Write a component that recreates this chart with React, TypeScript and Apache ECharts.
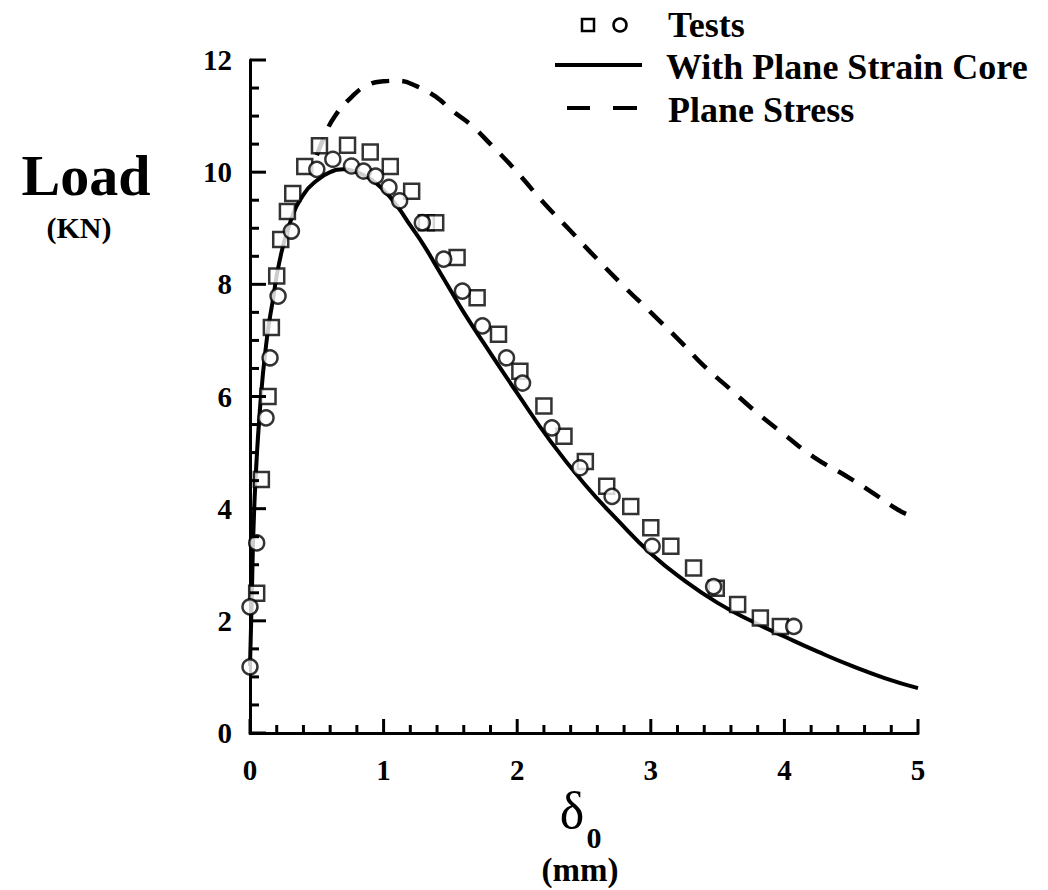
import React, { useEffect, useRef } from "react";
import * as echarts from "echarts";

// x: delta_0 (mm), y: Load (KN)
const squareTests: [number, number][] = [
  [0.05, 2.49], [0.085, 4.52], [0.135, 6.0], [0.16, 7.23], [0.2, 8.15],
  [0.23, 8.8], [0.28, 9.3], [0.32, 9.62], [0.41, 10.1], [0.52, 10.47],
  [0.73, 10.48], [0.9, 10.36], [1.05, 10.1], [1.21, 9.66], [1.32, 9.1],
  [1.39, 9.1], [1.55, 8.48], [1.7, 7.76], [1.86, 7.11], [2.02, 6.45],
  [2.2, 5.83], [2.35, 5.29], [2.51, 4.84], [2.67, 4.4], [2.85, 4.04],
  [3.0, 3.66], [3.15, 3.33], [3.32, 2.94], [3.49, 2.58], [3.65, 2.29],
  [3.82, 2.05], [3.97, 1.9],
];

const circleTests: [number, number][] = [
  [0.0, 1.18], [0.0, 2.25], [0.05, 3.39], [0.12, 5.62], [0.15, 6.69],
  [0.21, 7.79], [0.31, 8.95], [0.5, 10.05], [0.62, 10.23], [0.76, 10.11],
  [0.85, 10.02], [0.94, 9.93], [1.04, 9.73], [1.12, 9.49], [1.29, 9.1],
  [1.45, 8.45], [1.59, 7.88], [1.74, 7.26], [1.92, 6.69], [2.04, 6.24],
  [2.26, 5.44], [2.47, 4.73], [2.71, 4.22], [3.01, 3.33], [3.47, 2.61],
  [4.07, 1.9],
];

const planeStrainCore: [number, number][] = [
  [0.0, 1.2], [0.01, 2.1], [0.035, 4.2], [0.08, 5.95], [0.13, 7.1],
  [0.17, 7.7], [0.22, 8.4], [0.3, 9.1], [0.4, 9.6], [0.5, 9.85],
  [0.6, 10.0], [0.7, 10.05], [0.8, 10.0], [0.9, 9.88], [1.0, 9.68],
  [1.1, 9.4], [1.2, 9.05], [1.3, 8.7], [1.4, 8.3], [1.5, 7.9],
  [1.6, 7.5], [1.75, 6.95], [2.0, 6.06], [2.25, 5.2], [2.5, 4.45],
  [2.75, 3.8], [3.0, 3.2], [3.25, 2.72], [3.5, 2.32], [3.75, 2.0],
  [4.0, 1.72], [4.25, 1.45], [4.5, 1.2], [4.75, 0.98], [5.0, 0.8],
];

const planeStress: [number, number][] = [
  [0.5, 10.3], [0.56, 10.65], [0.63, 10.98], [0.76, 11.34], [0.88, 11.55],
  [1.0, 11.62], [1.1, 11.63], [1.25, 11.53], [1.4, 11.33], [1.5, 11.12],
  [1.65, 10.85], [1.8, 10.5], [2.0, 10.0], [2.2, 9.45], [2.4, 8.95],
  [2.55, 8.57], [2.8, 7.96], [3.0, 7.5], [3.23, 6.96], [3.4, 6.54],
  [3.6, 6.12], [3.78, 5.74], [4.0, 5.32], [4.22, 4.92], [4.45, 4.6],
  [4.65, 4.3], [4.85, 3.98], [4.97, 3.85],
];

// Axis tick positions
const xMajorTicks = [0, 1, 2, 3, 4, 5];
const xMinorTicks = [
  0.2, 0.4, 0.6, 0.8, 1.2, 1.4, 1.6, 1.8, 2.2, 2.4,
  2.6, 2.8, 3.2, 3.4, 3.6, 3.8, 4.2, 4.4, 4.6, 4.8,
];
const yMajorTicks = [0, 2, 4, 6, 8, 10, 12];
const yMinorTicks = [
  0.5, 1, 1.5, 2.5, 3, 3.5, 4.5, 5, 5.5, 6.5, 7, 7.5,
  8.5, 9, 9.5, 10.5, 11, 11.5,
];

const legendLabels = ["Tests", "With Plane Strain Core", "Plane Stress"];

const SERIF = "Liberation Serif, Times New Roman, serif";

// Tick marks drawn as thin rectangular scatter symbols placed by the axes' scales
function tickMarks(values: number[], dir: "x" | "y", len: number, width: number) {
  return {
    type: "scatter",
    silent: true,
    clip: false,
    z: 8,
    symbol: "rect",
    symbolSize: dir === "x" ? [width, len] : [len, width],
    symbolOffset: dir === "x" ? [0, -len / 2] : [len / 2, 0],
    itemStyle: { color: "#000", opacity: 1 },
    emphasis: { disabled: true },
    data: values.map((v) => (dir === "x" ? [v, 0] : [0, v])),
  };
}

export default function App() {
  const ref = useRef<HTMLDivElement>(null);

  useEffect(() => {
    if (!ref.current) return;
    const chart = echarts.init(ref.current, null, { renderer: "svg" });
    const labelStyle = {
      show: true,
      color: "#000",
      fontFamily: SERIF,
      fontWeight: "bold",
      fontSize: 29,
    };
    chart.setOption({
      animation: false,
      backgroundColor: "#fff",
      grid: { left: 250, right: 130, top: 60, bottom: 157, containLabel: false },
      xAxis: {
        type: "value",
        min: 0,
        max: 5,
        interval: 1,
        axisLine: { show: true, onZero: false, lineStyle: { color: "#000", width: 3 } },
        axisTick: { show: false },
        splitLine: { show: false },
        axisLabel: { ...labelStyle, margin: 22 },
      },
      yAxis: {
        type: "value",
        min: 0,
        max: 12,
        interval: 2,
        axisLine: { show: true, onZero: false, lineStyle: { color: "#000", width: 3 } },
        axisTick: { show: false },
        splitLine: { show: false },
        axisLabel: { ...labelStyle, margin: 18 },
      },
      series: [
        tickMarks(xMajorTicks, "x", 14, 3),
        tickMarks(xMinorTicks, "x", 8, 3),
        tickMarks(yMajorTicks, "y", 16, 3),
        tickMarks(yMinorTicks, "y", 9, 3),
        {
          type: "line",
          name: legendLabels[1],
          data: planeStrainCore,
          smooth: true,
          showSymbol: false,
          lineStyle: { color: "#000", width: 4 },
          z: 3,
        },
        {
          type: "line",
          name: legendLabels[2],
          data: planeStress,
          smooth: true,
          showSymbol: false,
          lineStyle: { color: "#000", width: 4.5, type: [18, 13] },
          z: 3,
        },
        {
          type: "scatter",
          name: "Tests (square)",
          data: squareTests,
          symbol: "rect",
          symbolSize: 15,
          itemStyle: { color: "#fff", borderColor: "#000", borderWidth: 2.5 },
          z: 4,
        },
        {
          type: "scatter",
          name: "Tests (circle)",
          data: circleTests,
          symbol: "circle",
          symbolSize: 15,
          itemStyle: { color: "#fff", borderColor: "#000", borderWidth: 2.5 },
          z: 5,
        },
      ],
      graphic: [
        // Legend
        { type: "rect", shape: { x: 582, y: 19, width: 12, height: 12 }, style: { fill: "#fff", stroke: "#000", lineWidth: 2.5 } },
        { type: "circle", shape: { cx: 620, cy: 25, r: 6.5 }, style: { fill: "#fff", stroke: "#000", lineWidth: 2.5 } },
        { type: "text", x: 668, y: 25, style: { text: legendLabels[0], font: `bold 36px ${SERIF}`, fill: "#000", textVerticalAlign: "middle" } },
        { type: "line", shape: { x1: 555, y1: 65, x2: 642, y2: 65 }, style: { stroke: "#000", lineWidth: 4 } },
        { type: "text", x: 666, y: 67, style: { text: legendLabels[1], font: `bold 36px ${SERIF}`, fill: "#000", textVerticalAlign: "middle" } },
        { type: "line", shape: { x1: 567, y1: 108, x2: 590, y2: 108 }, style: { stroke: "#000", lineWidth: 4 } },
        { type: "line", shape: { x1: 613, y1: 108, x2: 637, y2: 108 }, style: { stroke: "#000", lineWidth: 4 } },
        { type: "text", x: 668, y: 110, style: { text: legendLabels[2], font: `bold 36px ${SERIF}`, fill: "#000", textVerticalAlign: "middle" } },
        // Y axis title
        { type: "text", x: 86, y: 175, style: { text: "Load", font: `bold 58px ${SERIF}`, fill: "#000", textAlign: "center", textVerticalAlign: "middle" } },
        { type: "text", x: 79, y: 227, style: { text: "(KN)", font: `bold 30px ${SERIF}`, fill: "#000", textAlign: "center", textVerticalAlign: "middle" } },
        // X axis title
        { type: "text", x: 572, y: 810, style: { text: "δ", font: `52px ${SERIF}`, fill: "#000", textAlign: "center", textVerticalAlign: "middle" } },
        { type: "text", x: 594, y: 837, style: { text: "0", font: `bold 30px ${SERIF}`, fill: "#000", textAlign: "center", textVerticalAlign: "middle" } },
        { type: "text", x: 580, y: 870, style: { text: "(mm)", font: `bold 33px ${SERIF}`, fill: "#000", textAlign: "center", textVerticalAlign: "middle" } },
      ],
    });
    return () => chart.dispose();
  }, []);

  return (
    <div
      ref={ref}
      style={{ position: "fixed", left: 0, top: 0, width: 1048, height: 890, background: "#fff" }}
    />
  );
}
